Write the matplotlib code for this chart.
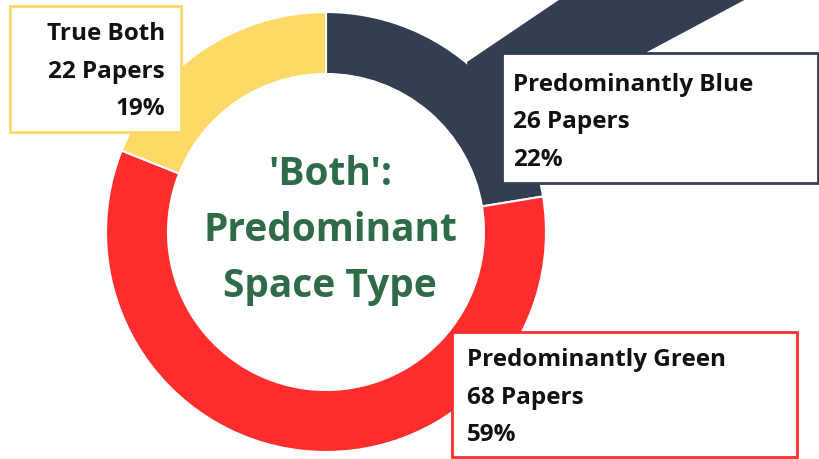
import numpy as np
from matplotlib import pyplot as plt
from matplotlib.patches import Rectangle, Polygon

# data
labels = ["Predominantly Blue", "Predominantly Green", "True Both"]
papers = [26, 68, 22]
colors = ["#333F50", "#FF2D2D", "#FFD966"]
border_colors = ["#333F50", "#FF2D2D", "#FFD966"]
center_title = ["'Both':", "Predominant", "Space Type"]

W, H = 819, 459
cx, cy = 326, 232
R, ring = 220, 62

fig = plt.figure(figsize=(W / 100, H / 100), dpi=100)
ax = fig.add_axes([0, 0, 1, 1])

# y axis runs downward, so counterclock=True looks clockwise
ax.pie(
    papers,
    colors=colors,
    center=(cx, cy),
    radius=R,
    startangle=-90,
    counterclock=True,
    wedgeprops=dict(width=ring, edgecolor="white", linewidth=1.5),
)
ax.set_xlim(0, W)
ax.set_ylim(H, 0)
ax.set_aspect("equal")
ax.axis("off")

# thick leader from the blue wedge to the top right corner
band = Polygon(
    [(467, 62), (587, -19), (780, -19), (647, 52), (520, 140), (472, 110)],
    closed=True, facecolor=colors[0], edgecolor="none", zorder=1.5,
)
ax.add_patch(band)

total = sum(papers)
pct = [round(100 * p / total) for p in papers]

# callout boxes: (x0, y0, x1, y1), text x, alignment
boxes = [
    ((502, 53, 818, 183), 513, "left"),
    ((452, 332, 797, 457), 467, "left"),
    ((10, 6, 181, 132), 165, "right"),
]
first_base = [91, 366, 40]
for i, ((x0, y0, x1, y1), tx, ha) in enumerate(boxes):
    ax.add_patch(Rectangle((x0, y0), x1 - x0, y1 - y0, facecolor="white",
                           edgecolor=border_colors[i], linewidth=2, zorder=3))
    lines = [labels[i], f"{papers[i]} Papers", f"{pct[i]}%"]
    for k, s in enumerate(lines):
        ax.text(tx, first_base[i] + k * 37.5, s, ha=ha, va="baseline",
                fontsize=17.5, fontweight="bold", family="Open Sans",
                color="#111111", zorder=4)

for k, s in enumerate(center_title):
    ax.text(330, 185 + k * 56, s, ha="center", va="baseline",
            fontsize=28, fontweight="bold", family="Open Sans",
            color="#2F6B48", zorder=4)

plt.savefig("out.png", dpi=100)
